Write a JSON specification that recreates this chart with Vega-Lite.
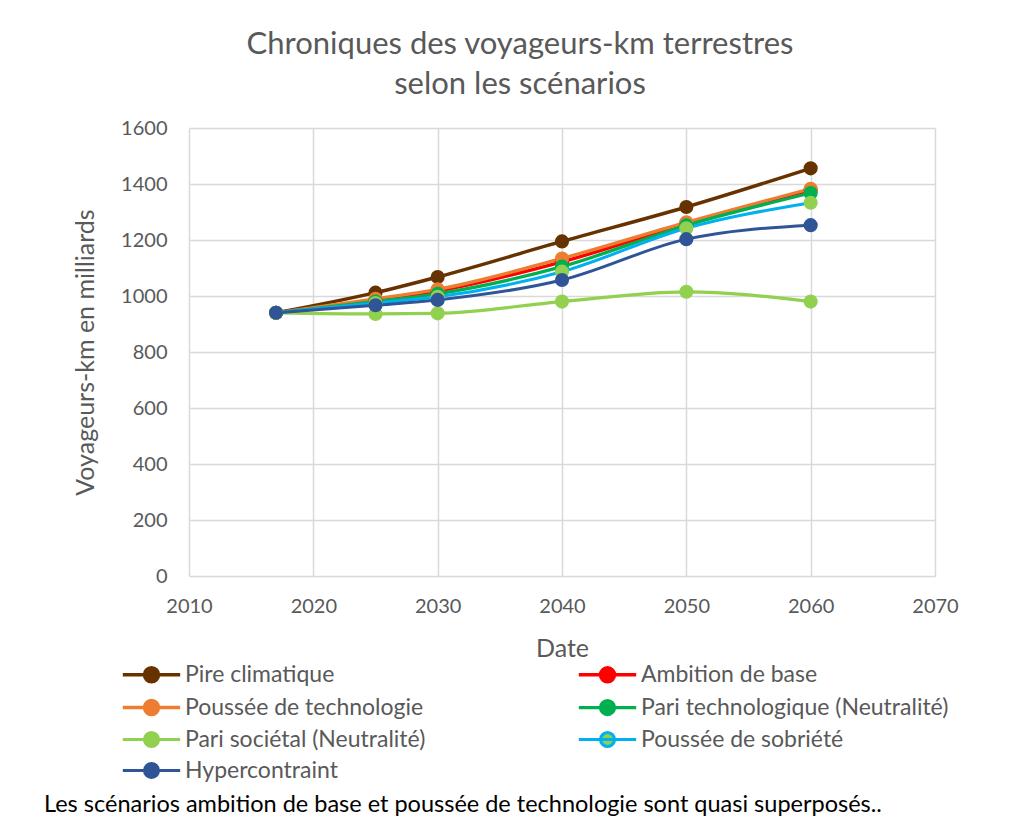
{
  "$schema": "https://vega.github.io/schema/vega-lite/v6.json",
  "width": 746,
  "height": 448,
  "autosize": {"type": "none"},
  "padding": {"left": 189, "top": 128, "right": 95, "bottom": 256},
  "background": "white",
  "config": {
    "font": "Lato",
    "view": {"stroke": null},
    "axis": {"labelFont": "Lato", "titleFont": "Lato", "labelColor": "#595959", "titleColor": "#595959", "labelFontSize": 20, "titleFontSize": 25, "titleFontWeight": "normal", "gridColor": "#d9d9d9", "gridWidth": 1.5, "domain": false, "ticks": false, "labelFlush": false, "labelOverlap": false}
  },
  "title": {
    "text": ["Chroniques des voyageurs-km terrestres", "selon les scénarios"],
    "font": "Lato", "fontSize": 31, "fontWeight": "normal", "color": "#595959",
    "lineHeight": 40, "anchor": "middle", "dx": -42, "offset": 17
  },
  "data": {"values": [
    {"scenario": "Pire climatique", "year": 2017, "value": 940},
    {"scenario": "Pire climatique", "year": 2025, "value": 1012},
    {"scenario": "Pire climatique", "year": 2030, "value": 1068},
    {"scenario": "Pire climatique", "year": 2040, "value": 1195},
    {"scenario": "Pire climatique", "year": 2050, "value": 1318},
    {"scenario": "Pire climatique", "year": 2060, "value": 1456},
    {"scenario": "Ambition de base", "year": 2017, "value": 940},
    {"scenario": "Ambition de base", "year": 2025, "value": 985},
    {"scenario": "Ambition de base", "year": 2030, "value": 1018},
    {"scenario": "Ambition de base", "year": 2040, "value": 1122},
    {"scenario": "Ambition de base", "year": 2050, "value": 1258},
    {"scenario": "Ambition de base", "year": 2060, "value": 1378},
    {"scenario": "Poussée de technologie", "year": 2017, "value": 940},
    {"scenario": "Poussée de technologie", "year": 2025, "value": 990},
    {"scenario": "Poussée de technologie", "year": 2030, "value": 1024},
    {"scenario": "Poussée de technologie", "year": 2040, "value": 1134},
    {"scenario": "Poussée de technologie", "year": 2050, "value": 1263},
    {"scenario": "Poussée de technologie", "year": 2060, "value": 1383},
    {"scenario": "Pari technologique (Neutralité)", "year": 2017, "value": 940},
    {"scenario": "Pari technologique (Neutralité)", "year": 2025, "value": 980},
    {"scenario": "Pari technologique (Neutralité)", "year": 2030, "value": 1008},
    {"scenario": "Pari technologique (Neutralité)", "year": 2040, "value": 1105},
    {"scenario": "Pari technologique (Neutralité)", "year": 2050, "value": 1252},
    {"scenario": "Pari technologique (Neutralité)", "year": 2060, "value": 1368},
    {"scenario": "Pari sociétal (Neutralité)", "year": 2017, "value": 940},
    {"scenario": "Pari sociétal (Neutralité)", "year": 2025, "value": 936},
    {"scenario": "Pari sociétal (Neutralité)", "year": 2030, "value": 938},
    {"scenario": "Pari sociétal (Neutralité)", "year": 2040, "value": 980},
    {"scenario": "Pari sociétal (Neutralité)", "year": 2050, "value": 1015},
    {"scenario": "Pari sociétal (Neutralité)", "year": 2060, "value": 980},
    {"scenario": "Poussée de sobriété", "year": 2017, "value": 940},
    {"scenario": "Poussée de sobriété", "year": 2025, "value": 975},
    {"scenario": "Poussée de sobriété", "year": 2030, "value": 997},
    {"scenario": "Poussée de sobriété", "year": 2040, "value": 1087},
    {"scenario": "Poussée de sobriété", "year": 2050, "value": 1242},
    {"scenario": "Poussée de sobriété", "year": 2060, "value": 1333},
    {"scenario": "Hypercontraint", "year": 2017, "value": 940},
    {"scenario": "Hypercontraint", "year": 2025, "value": 967},
    {"scenario": "Hypercontraint", "year": 2030, "value": 986},
    {"scenario": "Hypercontraint", "year": 2040, "value": 1057},
    {"scenario": "Hypercontraint", "year": 2050, "value": 1203},
    {"scenario": "Hypercontraint", "year": 2060, "value": 1253}
  ]},
  "encoding": {
    "x": {"field": "year", "type": "quantitative", "title": "Date",
      "scale": {"domain": [2010, 2070], "nice": false, "zero": false},
      "axis": {"values": [2010, 2020, 2030, 2040, 2050, 2060, 2070], "format": "d", "labelPadding": 20, "titlePadding": 20}},
    "y": {"field": "value", "type": "quantitative", "title": "Voyageurs-km en milliards",
      "scale": {"domain": [0, 1600], "nice": false},
      "axis": {"values": [0, 200, 400, 600, 800, 1000, 1200, 1400, 1600], "format": "d", "labelPadding": 22, "titlePadding": 22}}
  },
  "layer": [
    {
      "mark": {"type": "line", "interpolate": "monotone"},
      "encoding": {
        "stroke": {"field": "scenario", "type": "nominal",
          "scale": {"domain": ["Pire climatique", "Ambition de base", "Poussée de technologie", "Pari technologique (Neutralité)", "Pari sociétal (Neutralité)", "Poussée de sobriété", "Hypercontraint"],
            "range": ["#663300", "#FF0000", "#ED7D31", "#00B050", "#92D050", "#00B0F0", "#2F5597"]},
          "legend": {
            "orient": "none", "legendX": -145, "legendY": 535, "columns": 2, "direction": "horizontal", "padding": 0,
            "title": "Les scénarios ambition de base et poussée de technologie sont quasi superposés..",
            "titleOrient": "bottom", "titleAnchor": "start", "titleFont": "Lato", "titleFontSize": 23.5, "titleFontWeight": "normal", "titleColor": "#000000", "titleLimit": 1000, "titlePadding": 9,
            "labelFont": "Lato", "labelFontSize": 23, "labelColor": "#595959", "labelLimit": 500,
            "symbolType": "M-4.1,0L4.1,0M1,0A1,1,0,1,1,-1,0A1,1,0,1,1,1,0Z",
            "symbolSize": 196, "symbolStrokeWidth": 4.5, "symbolOffset": 96, "labelOffset": 22,
            "columnPadding": 74, "rowPadding": 4
          }},
        "strokeWidth": {"field": "scenario", "type": "nominal", "legend": null,
          "scale": {"domain": ["Pire climatique", "Ambition de base", "Poussée de technologie", "Pari technologique (Neutralité)", "Pari sociétal (Neutralité)", "Poussée de sobriété", "Hypercontraint"],
            "range": [3.5, 3, 6, 4, 4, 5, 4.5]}}
      }
    },
    {
      "mark": {"type": "circle", "size": 200, "opacity": 1},
      "encoding": {
        "fill": {"field": "scenario", "type": "nominal",
          "scale": {"domain": ["Pire climatique", "Ambition de base", "Poussée de technologie", "Pari technologique (Neutralité)", "Pari sociétal (Neutralité)", "Poussée de sobriété", "Hypercontraint"],
            "range": ["#663300", "#FF0000", "#ED7D31", "#00B050", "#92D050", "#92D050", "#2F5597"]},
          "legend": {
            "orient": "none", "legendX": -145, "legendY": 535, "columns": 2, "direction": "horizontal", "padding": 0,
            "title": "Les scénarios ambition de base et poussée de technologie sont quasi superposés..",
            "titleOrient": "bottom", "titleAnchor": "start", "titleFont": "Lato", "titleFontSize": 23.5, "titleFontWeight": "normal", "titleColor": "#000000", "titleLimit": 1000, "titlePadding": 9,
            "labelFont": "Lato", "labelFontSize": 23, "labelColor": "#595959", "labelLimit": 500,
            "symbolType": "M-4.1,0L4.1,0M1,0A1,1,0,1,1,-1,0A1,1,0,1,1,1,0Z",
            "symbolSize": 196, "symbolStrokeWidth": 4.5, "symbolOffset": 96, "labelOffset": 22,
            "columnPadding": 74, "rowPadding": 4
          }}
      }
    }
  ]
}
